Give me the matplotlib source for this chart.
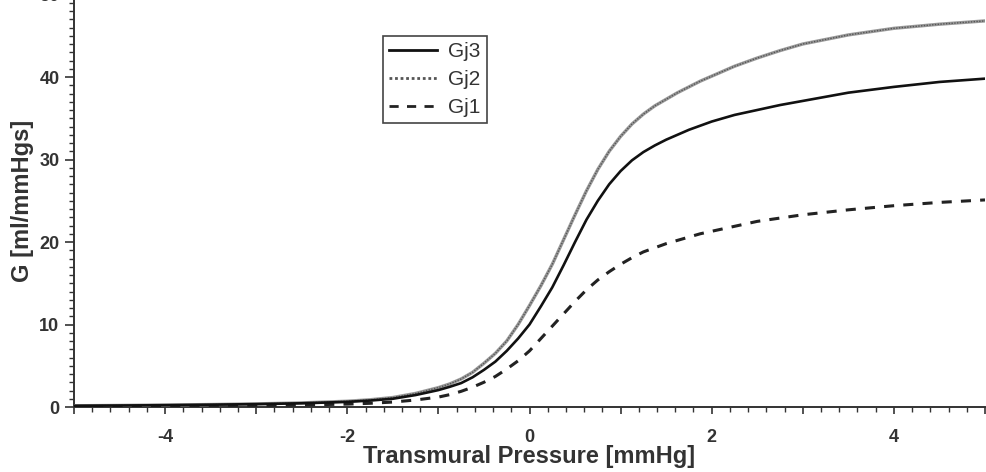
import matplotlib.pyplot as plt
from matplotlib.ticker import MultipleLocator, FuncFormatter

# transmural pressure [mmHg]
pressure = [-5, -4.5, -4, -3.5, -3, -2.5, -2, -1.75, -1.5, -1.25, -1, -0.875,
            -0.75, -0.625, -0.5, -0.375, -0.25, -0.125, 0, 0.125, 0.25, 0.375,
            0.5, 0.625, 0.75, 0.875, 1, 1.125, 1.25, 1.375, 1.5, 1.625, 1.75,
            1.875, 2, 2.25, 2.5, 2.75, 3, 3.5, 4, 4.5, 5]

# conductance [ml/mmHgs]
gj3 = [0.15, 0.18, 0.22, 0.28, 0.35, 0.45, 0.62, 0.78, 1.0, 1.45, 2.05, 2.45,
       2.9, 3.6, 4.5, 5.5, 6.8, 8.3, 10.0, 12.2, 14.5, 17.2,
       20.0, 22.7, 25.0, 27.0, 28.6, 29.9, 30.9, 31.7, 32.4, 33.0, 33.6,
       34.1, 34.6, 35.4, 36.0, 36.6, 37.1, 38.1, 38.8, 39.4, 39.8]
gj2 = [0.15, 0.19, 0.24, 0.30, 0.38, 0.50, 0.70, 0.88, 1.15, 1.65, 2.35, 2.8,
       3.4, 4.2, 5.3, 6.5, 8.0, 10.0, 12.3, 14.7, 17.3, 20.3,
       23.3, 26.2, 28.8, 31.0, 32.8, 34.3, 35.5, 36.5, 37.3, 38.1, 38.8,
       39.5, 40.1, 41.3, 42.3, 43.2, 44.0, 45.1, 45.9, 46.4, 46.8]
gj1 = [0.05, 0.07, 0.10, 0.13, 0.18, 0.25, 0.35, 0.45, 0.6, 0.85, 1.2, 1.5,
       1.9, 2.4, 3.0, 3.7, 4.6, 5.6, 6.8, 8.3, 9.8, 11.3,
       12.8, 14.2, 15.4, 16.4, 17.3, 18.1, 18.8, 19.3, 19.8, 20.2, 20.6,
       21.0, 21.3, 21.9, 22.5, 22.9, 23.3, 23.9, 24.4, 24.8, 25.1]

TEXT = "#333333"

plt.rcParams["font.family"] = ["Liberation Sans", "DejaVu Sans"]
plt.rcParams["font.weight"] = "bold"

fig = plt.figure(figsize=(9.86, 4.72), dpi=100)
ax = fig.add_axes([74 / 986, 65 / 472, 911 / 986, 412.5 / 472])

ax.plot(pressure, gj3, color="#111111", lw=1.9, label="Gj3", zorder=4)
ax.plot(pressure, gj2, color="#9a9a9a", lw=2.4, zorder=3)
ax.plot(pressure, gj2, color="#555555", lw=1.0, ls=(0, (1, 1)), label="Gj2", zorder=3)
ax.plot(pressure, gj1, color="#222222", lw=2.2, ls=(0, (3.3, 3.0)), label="Gj1", zorder=3)

ax.set_xlim(-5, 5)
ax.set_ylim(0, 50)

ax.xaxis.set_major_locator(MultipleLocator(1))
ax.xaxis.set_minor_locator(MultipleLocator(0.2))
ax.xaxis.set_major_formatter(
    FuncFormatter(lambda v, _: f"{v:.0f}" if round(v) % 2 == 0 else "")
)
ax.yaxis.set_major_locator(MultipleLocator(10))
ax.yaxis.set_minor_locator(MultipleLocator(1))

ax.tick_params(axis="x", which="major", length=5, width=1.2, pad=11,
               labelsize=13, colors=TEXT)
ax.tick_params(axis="x", which="minor", length=3.5, width=1.0, color=TEXT)
ax.tick_params(axis="y", which="major", length=6.5, width=1.2, pad=4,
               labelsize=13, colors=TEXT)
ax.tick_params(axis="y", which="minor", length=3.5, width=1.0, color=TEXT)

for side in ("top", "right"):
    ax.spines[side].set_visible(False)
for side in ("left", "bottom"):
    ax.spines[side].set_color(TEXT)
    ax.spines[side].set_linewidth(1.4)

ax.set_xlabel("Transmural Pressure [mmHg]", fontsize=17, fontweight="bold",
              color=TEXT)
ax.set_ylabel("G [ml/mmHgs]", fontsize=17, fontweight="bold", color=TEXT)
ax.xaxis.set_label_coords(0.5, -0.092)
ax.yaxis.set_label_coords(-0.044, 0.5)

leg = ax.legend(loc="upper left", bbox_to_anchor=(0.339, 0.899), fancybox=False,
                framealpha=1, edgecolor="#444444", handlelength=2.3,
                handletextpad=0.55, borderpad=0.3, labelspacing=0.42,
                borderaxespad=0, prop={"size": 15, "weight": "normal"})
leg.get_frame().set_linewidth(1.2)
for text in leg.get_texts():
    text.set_color(TEXT)
for line in leg.get_lines():
    line.set_linewidth(2.0)

fig.savefig("out.png", dpi=100)
